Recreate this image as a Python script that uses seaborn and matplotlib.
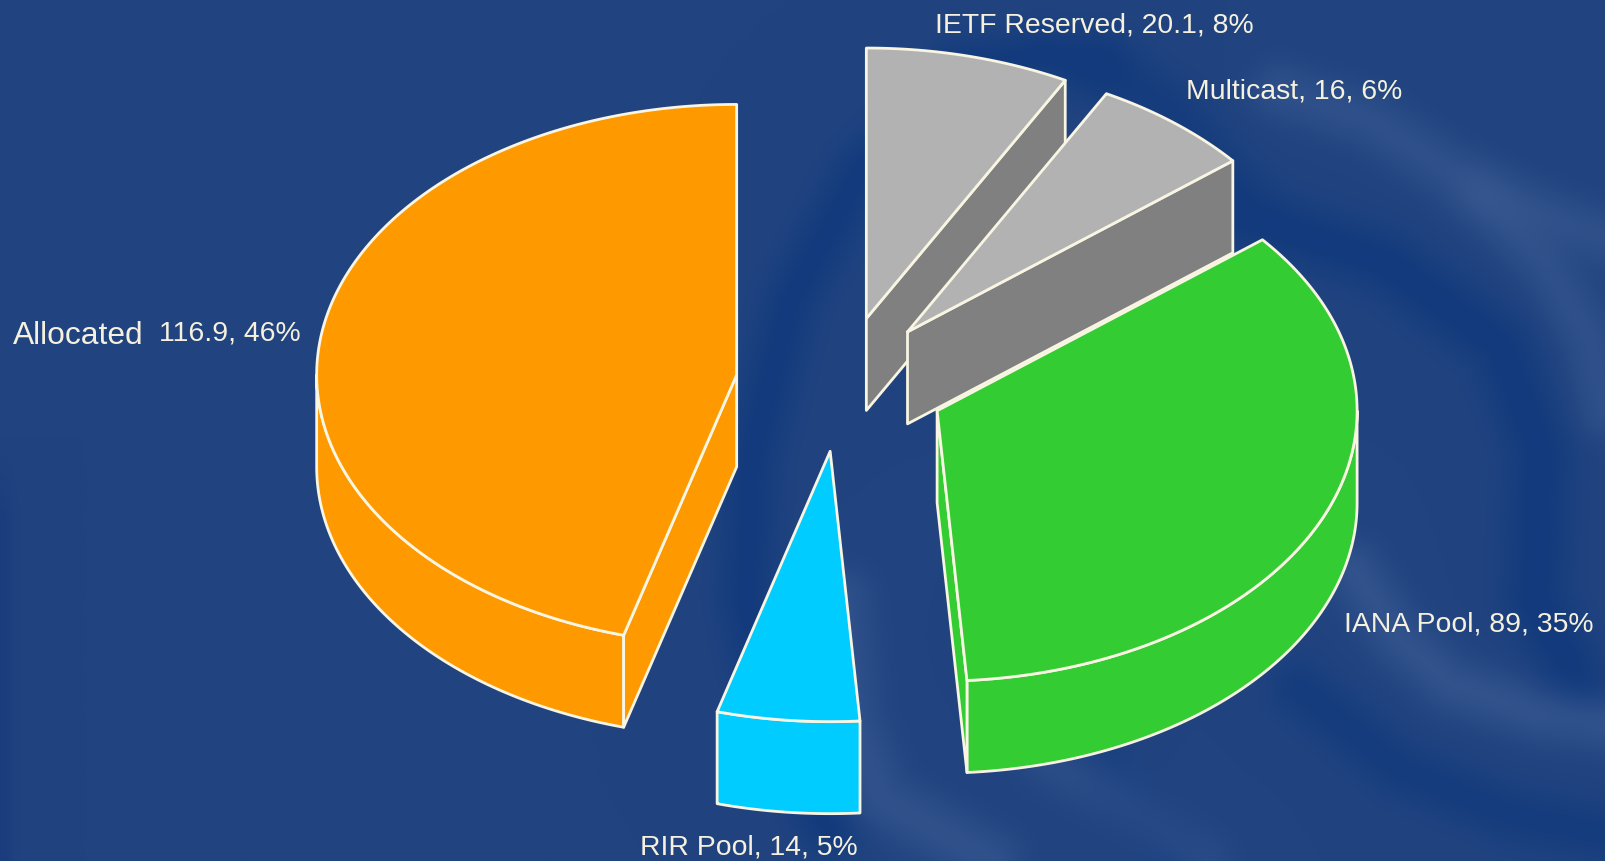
import numpy as np
import matplotlib
matplotlib.use('Agg')
import matplotlib.pyplot as plt
from matplotlib.colors import to_rgb
import seaborn as sns

# address space in /8 blocks, clockwise from 12 o'clock
names = ['IETF Reserved', 'Multicast', 'IANA Pool', 'RIR Pool', 'Allocated']
values = [20.1, 16, 89, 14, 116.9]
percents = [8, 6, 35, 5, 46]

top_colors = sns.color_palette(['#b2b2b2', '#b2b2b2', '#33cc33', '#00ccff', '#ff9900'])
side_colors = sns.color_palette(['#808080', '#808080', '#33cc33', '#00ccff', '#ff9900'])
edge = '#f8f5e3'
text_col = '#f5f1de'
bg = '#214480'
dark = '#123a7c'
light = '#3a5a92'

# pie geometry in pixels
cx, cy = 840.7, 385
rx, ry = 420, 270.4
depth = 92
explode = 0.25

# background swirl: (colour, strength, width, path)
bands = [
    (dark, 0.95, 30, [(960, 75), (1040, 52), (1100, 65)]),
    (dark, 0.95, 30, [(960, 75), (860, 170), (790, 300), (750, 460), (745, 600), (770, 720), (830, 830)]),
    (dark, 0.75, 34, [(1100, 65), (1170, 110), (1230, 190)]),
    (dark, 1.00, 34, [(1230, 210), (1386, 262), (1500, 345), (1540, 450), (1535, 600), (1580, 690)]),
    (dark, 0.80, 30, [(1300, 690), (1400, 770), (1509, 815), (1606, 835)]),
    (dark, 0.60, 28, [(1000, 640), (1100, 760), (1180, 862)]),
    (light, 0.55, 28, [(1280, 90), (1367, 118), (1483, 192), (1606, 238)]),
    (light, 0.55, 28, [(1483, 195), (1545, 262), (1590, 340), (1606, 410)]),
    (light, 0.65, 28, [(1353, 570), (1400, 640), (1451, 685), (1538, 715), (1606, 725)]),
    (light, 0.60, 30, [(840, 600), (850, 720), (880, 800), (990, 862)]),
    (light, 0.40, 30, [(1050, 760), (1120, 800), (1200, 862)]),
]

sns.set_theme(style='white', rc={'figure.facecolor': bg, 'axes.facecolor': bg})
plt.rcParams['font.family'] = ['Liberation Sans', 'DejaVu Sans']

fig = plt.figure(figsize=(16.06, 8.62), dpi=100)
ax = fig.add_axes([0, 0, 1, 1])

# soft background as an image, low res then smoothed by imshow
gx, gy = np.meshgrid(np.arange(0, 1610, 4.0), np.arange(0, 866, 4.0))
field = np.ones(gx.shape + (3,)) * np.array(to_rgb(bg))
for col, amp, width, path in bands:
    path = np.array(path, dtype=float)
    seg = np.linspace(0, len(path) - 1, 120)
    px = np.interp(seg, np.arange(len(path)), path[:, 0])
    py = np.interp(seg, np.arange(len(path)), path[:, 1])
    d2 = np.min((gx[..., None] - px) ** 2 + (gy[..., None] - py) ** 2, axis=-1)
    a = (amp * np.exp(-d2 / width ** 2))[..., None]
    field = field * (1 - a) + np.array(to_rgb(col)) * a
# thin darker strip on the left edge
a = (0.7 * np.exp(-(gx / 14) ** 2) * np.clip((gy - 440) / 80, 0, 1))[..., None]
field = field * (1 - a) + np.array(to_rgb('#1a3a7c')) * a
ax.imshow(field, extent=(0, 1610, 866, 0), interpolation='bicubic', aspect='auto', zorder=0)
ax.set_xlim(0, 1606)
ax.set_ylim(862, 0)
ax.axis('off')


def arc_pts(x0, y0, t1, t2):
    # t clockwise from the top of the pie, degrees
    t = np.radians(np.linspace(t1, t2, 200))
    return x0 + rx * np.sin(t), y0 - ry * np.cos(t)


def draw_slice(x0, y0, t1, t2, top, side, z):
    lw = 2.0
    # outer wall, only the part facing the viewer
    a, b = max(t1, 90), min(t2, 270)
    if a < b:
        xs, ys = arc_pts(x0, y0, a, b)
        ax.fill(np.r_[xs, xs[::-1]], np.r_[ys, ys[::-1] + depth], fc=side, ec=edge, lw=lw,
                joinstyle='round', zorder=z)
    # cut faces
    for t, show in [(t1, 180 < t1 < 360), (t2, 0 < t2 < 180)]:
        if show:
            xe, ye = arc_pts(x0, y0, t, t)
            ax.fill([x0, xe[0], xe[0], x0], [y0, ye[0], ye[0] + depth, y0 + depth],
                    fc=side, ec=edge, lw=lw, joinstyle='round', zorder=z)
    # top
    xs, ys = arc_pts(x0, y0, t1, t2)
    ax.fill(np.r_[x0, xs], np.r_[y0, ys], fc=top, ec=edge, lw=lw, joinstyle='round', zorder=z)


angles = np.r_[0, np.cumsum(values)] / np.sum(values) * 360
# draw back to front
for i, z in zip(range(5), [3, 4, 6, 7, 5]):
    t1, t2 = angles[i], angles[i + 1]
    mid = np.radians((t1 + t2) / 2)
    x0 = cx + explode * rx * np.sin(mid)
    y0 = cy - explode * ry * np.cos(mid)
    draw_slice(x0, y0, t1, t2, top_colors[i], side_colors[i], z)

# labels
label_pos = [(935, 26), (1186, 92), (1344, 625), (640, 848)]
for i, (x, y) in enumerate(label_pos):
    ax.text(x, y, f'{names[i]}, {values[i]:g}, {percents[i]}%', color=text_col, fontsize=20.45,
            va='center', ha='left', zorder=10)
ax.text(13, 336, names[4], color=text_col, fontsize=22.9, va='center', ha='left', zorder=10)
ax.text(159, 334, f'{values[4]:g}, {percents[4]}%', color=text_col, fontsize=20.45,
        va='center', ha='left', zorder=10)

fig.savefig('out.png', dpi=100, facecolor=bg)
